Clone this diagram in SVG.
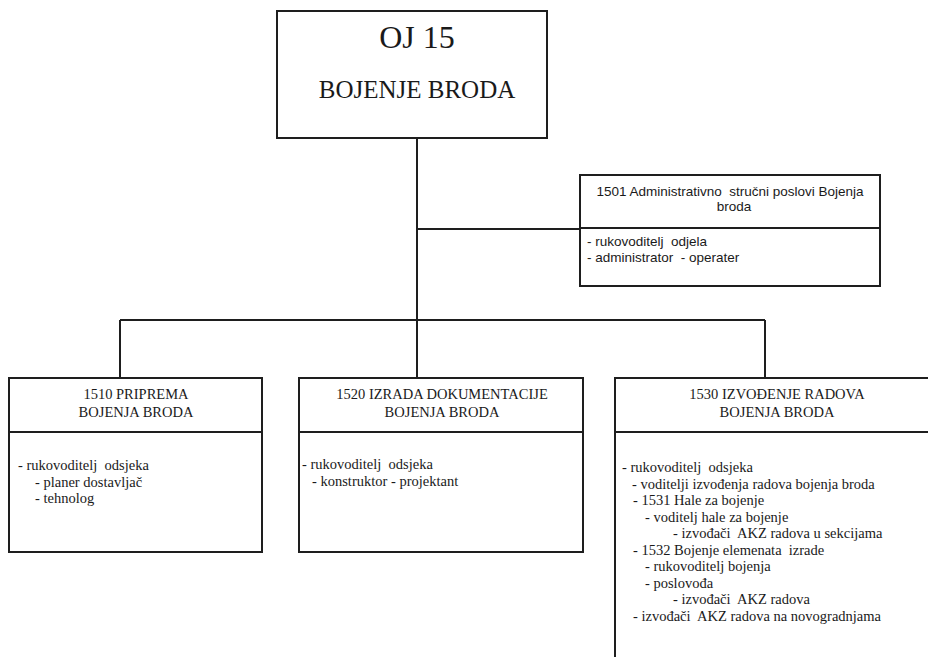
<svg xmlns="http://www.w3.org/2000/svg" width="928" height="657" viewBox="0 0 928 657">
<style>
.box{fill:#fff;stroke:#1e1e1e;stroke-width:2}
.div{stroke:#1e1e1e;stroke-width:2}
.con{stroke:#1e1e1e;stroke-width:2;fill:none}
text{font-family:"Liberation Serif","Times New Roman",serif;fill:#1a1a1a;white-space:pre}
.h{font-size:14.5px;text-anchor:middle}
.b{font-size:14.5px}
.s{font-family:"Liberation Sans",Arial,sans-serif;font-size:13.5px}
</style>
<rect width="928" height="657" fill="#fff"/>
<g id="connectors">
<path class="con" d="M417 138V378"/>
<path class="con" d="M417 229H580"/>
<path class="con" d="M120 320H765"/>
<path class="con" d="M120 320V378"/>
<path class="con" d="M765 320V378"/>
</g>
<g id="oj15">
<rect class="box" x="277" y="11" width="270" height="127"/>
<text x="417" y="48" font-size="32" text-anchor="middle">OJ 15</text>
<text x="417" y="98" font-size="25" text-anchor="middle">BOJENJE BRODA</text>
</g>
<g id="n1501">
<rect class="box" x="580" y="175" width="300" height="111"/>
<line class="div" x1="580" y1="228" x2="880" y2="228"/>
<text class="s" x="730" y="196" text-anchor="middle" xml:space="preserve">1501 Administrativno  stručni poslovi Bojenja</text>
<text class="s" x="734" y="211" text-anchor="middle">broda</text>
<text class="s" x="587" y="246" xml:space="preserve">- rukovoditelj  odjela</text>
<text class="s" x="587" y="262" xml:space="preserve">- administrator  - operater</text>
</g>
<g id="n1510">
<rect class="box" x="9" y="378" width="253" height="174"/>
<line class="div" x1="9" y1="432" x2="262" y2="432"/>
<text class="h" x="136" y="399">1510 PRIPREMA</text>
<text class="h" x="136" y="417">BOJENJA BRODA</text>
<text class="b" x="18" y="470" xml:space="preserve">- rukovoditelj  odsjeka</text>
<text class="b" x="35" y="486.5">- planer dostavljač</text>
<text class="b" x="35" y="503">- tehnolog</text>
</g>
<g id="n1520">
<rect class="box" x="299" y="378" width="284" height="174"/>
<line class="div" x1="299" y1="432" x2="583" y2="432"/>
<text class="h" x="442" y="399">1520 IZRADA DOKUMENTACIJE</text>
<text class="h" x="442" y="417">BOJENJA BRODA</text>
<text class="b" x="302" y="469" xml:space="preserve">- rukovoditelj  odsjeka</text>
<text class="b" x="312" y="486">- konstruktor - projektant</text>
</g>
<g id="n1530">
<rect class="box" x="615" y="378" width="330" height="300"/>
<line class="div" x1="615" y1="432" x2="945" y2="432"/>
<text class="h" x="777" y="399">1530 IZVOĐENJE RADOVA</text>
<text class="h" x="777" y="417">BOJENJA BRODA</text>
<text class="b" x="622" y="472" xml:space="preserve">- rukovoditelj  odsjeka</text>
<text class="b" x="632" y="488.5">- voditelji izvođenja radova bojenja broda</text>
<text class="b" x="633" y="505">- 1531 Hale za bojenje</text>
<text class="b" x="645" y="521.5">- voditelj hale za bojenje</text>
<text class="b" x="673" y="538" xml:space="preserve">- izvođači  AKZ radova u sekcijama</text>
<text class="b" x="633" y="554.5" xml:space="preserve">- 1532 Bojenje elemenata  izrade</text>
<text class="b" x="645" y="571">- rukovoditelj bojenja</text>
<text class="b" x="645" y="587.5">- poslovođa</text>
<text class="b" x="673" y="604" xml:space="preserve">- izvođači  AKZ radova</text>
<text class="b" x="633" y="620.5" xml:space="preserve">- izvođači  AKZ radova na novogradnjama</text>
</g>
</svg>
